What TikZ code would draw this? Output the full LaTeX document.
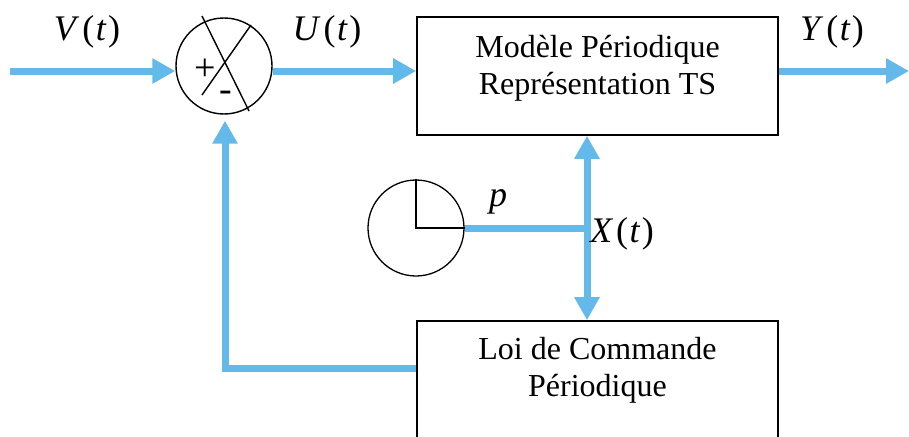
\documentclass[tikz,border=0pt]{standalone}
\usepackage{fontspec}
\setmainfont{Liberation Serif}
\usetikzlibrary{arrows.meta}
\definecolor{sigblue}{RGB}{100,185,235}
\tikzset{
  sig/.style={sigblue,line width=7pt},
  sigarr/.style={sig,-{Triangle[width=24pt,length=23pt]}},
  sigdbl/.style={sig,{Triangle[width=24pt,length=23pt]}-{Triangle[width=24pt,length=23pt]}},
  blk/.style={draw,line width=1.6pt,minimum width=361pt,inner sep=0pt},
  blktxt/.style={anchor=north,align=center,inner sep=0pt},
  lab/.style={font=\fontsize{36}{40}\selectfont},
  sgn/.style={font=\fontsize{38}{42}\selectfont,inner sep=0pt}
}
\newcommand{\sigl}[1]{\textit{#1}\kern3pt(\kern1.5pt\textit{t}\kern1.5pt)}

\begin{document}
\begin{tikzpicture}[x=1pt,y=-1pt,font=\fontsize{32}{37}\selectfont]
  \useasboundingbox (0,0) rectangle (909,436);
  \node[blk,minimum height=118pt] (model) at (597.5,76) {};
  \node[blktxt] (modeltxt) at (597.5,35) {Modèle Périodique\\Représentation TS};
  \node[blk,minimum height=130pt] (law) at (597.5,386) {};
  \node[blktxt] (lawtxt) at (597.5,337) {Loi de Commande\\Périodique};
  \node[circle,draw,line width=1.4pt,minimum size=96pt,inner sep=0pt] (sum) at (224,66) {};
  \draw[line width=1.4pt] (202,16)--(249,111);
  \draw[line width=1.4pt] (251,25)--(202,95);
  \node[sgn] (plus) at (205,70) {+};
  \node[sgn] (minus) at (226,96) {-};
  \node[circle,draw,line width=1.3pt,minimum size=96pt,inner sep=0pt] (clock) at (416,228) {};
  \draw[line width=1.3pt] (clock.north)--(clock.center)--(clock.east);
  \coordinate (in) at (10,71);
  \coordinate (out) at (909,71);
  \coordinate (xt) at (587,228);
  \coordinate (fb) at (225,368);
  \draw[sigarr] (in) -- (in -| sum.west);
  \draw[sigarr] (in -| sum.east) -- (in -| model.west);
  \draw[sigarr] (in -| model.east) -- (out);
  \draw[sigdbl] (xt |- model.south) -- (xt |- law.north);
  \draw[sig] (clock.east) -- (xt);
  \draw[sigarr,shorten >=6pt] (law.west |- fb) -- (fb) -- (fb |- sum.south);
  \node[lab] (vlab) at (87,32) {\sigl{V}};
  \node[lab] (ulab) at (327,32) {\sigl{U}};
  \node[lab] (ylab) at (832,32) {\sigl{Y}};
  \node[lab] (xlab) at (622,234) {\sigl{X}};
  \node[lab] (plab) at (498,202) {\textit{p}};
\end{tikzpicture}
\end{document}
